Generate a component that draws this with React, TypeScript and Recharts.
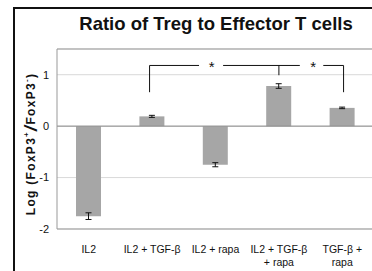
import {
  BarChart,
  Bar,
  XAxis,
  YAxis,
  CartesianGrid,
  ErrorBar,
  ReferenceLine,
  ReferenceDot,
} from "recharts";

const categories = ["IL2", "IL2 + TGF-β", "IL2 + rapa", "IL2 + TGF-β + rapa", "TGF-β + rapa"];
const tickLines = [["IL2"], ["IL2 + TGF-β"], ["IL2 + rapa"], ["IL2 + TGF-β", "+ rapa"], ["TGF-β +", "rapa"]];
const logRatio = [-1.75, 0.19, -0.75, 0.78, 0.355];
const sem = [0.065, 0.02, 0.04, 0.045, 0.015];
const yTicks = [-2, -1, 0, 1];

// significance bracket, in bar-index units on a hidden numeric axis
const bracketTop = 1.18;
const bracketFoot = 0.66;
const bracketMid = 0.99;
const bracketSegments = [
  [0.96, 1.74],
  [2.12, 3.33],
  [3.7, 4.02],
];
const stars = [1.94, 3.54];

const data = categories.map((c, i) => ({ name: c, idx: i, value: logRatio[i], err: sem[i] }));

const font = "'Liberation Sans', Arial, sans-serif";

function CategoryTick(props: any) {
  const { x, y, payload } = props;
  const lines = tickLines[payload.index] || [payload.value];
  return (
    <text x={x} y={y} textAnchor="middle" fontFamily={font} fontSize={10.5} fill="#111">
      {lines.map((l, i) => (
        <tspan key={i} x={x} dy={i === 0 ? 16 : 13}>
          {l}
        </tspan>
      ))}
    </text>
  );
}

function YLabel(props: any) {
  const vb = props.viewBox || {};
  const cx = 31;
  const cy = vb.y + vb.height / 2 + 5;
  return (
    <text
      x={cx}
      y={cy}
      transform={`rotate(-90 ${cx} ${cy})`}
      textAnchor="middle"
      dominantBaseline="central"
      fontFamily={font}
      fontWeight="bold"
      fontSize={12}
      letterSpacing={1.3}
      fill="#111"
    >
      Log  (FoxP3
      <tspan fontSize={8} dy={-5}>+</tspan>
      <tspan fontSize={18} dy={5} fontStyle="italic">/</tspan>
      <tspan>FoxP3</tspan>
      <tspan fontSize={8} dy={-5}>-</tspan>
      <tspan dy={5}>)</tspan>
    </text>
  );
}

function App() {
  return (
    <div style={{ position: "absolute", left: 0, top: 0, width: 372, height: 271, overflow: "hidden", background: "#fff" }}>
      <div
        style={{
          position: "absolute",
          left: 13,
          top: 7,
          width: 400,
          height: 300,
          border: "2px solid #111",
        }}
      />
      <div
        style={{
          position: "absolute",
          left: 60,
          top: 13,
          width: 312,
          textAlign: "center",
          fontFamily: font,
          fontWeight: "bold",
          fontSize: 18.5,
          color: "#111",
        }}
      >
        Ratio of Treg to Effector T cells
      </div>
      <div style={{ position: "absolute", left: 0, top: 0 }}>
        <BarChart width={374} height={271} data={data} margin={{ top: 49, right: 0, bottom: 0, left: 0 }}>
          <CartesianGrid vertical={false} stroke="#d9d9d9" />
          <XAxis
            dataKey="name"
            axisLine={{ stroke: "#999" }}
            tickLine={false}
            height={42}
            interval={0}
            tick={<CategoryTick />}
          />
          <XAxis xAxisId="num" type="number" dataKey="idx" domain={[-0.5, 4.5]} hide />
          <YAxis
            width={57}
            domain={[-2, 1.5]}
            ticks={yTicks}
            axisLine={{ stroke: "#999" }}
            tickLine={false}
            tick={{ fontFamily: font, fontSize: 11, fill: "#111" }}
            label={<YLabel />}
          />
          <ReferenceLine y={1.5} stroke="#999" />
          <ReferenceLine y={0} stroke="#8c8c8c" />
          <Bar dataKey="value" fill="#a6a6a6" barSize={25} isAnimationActive={false}>
            <ErrorBar dataKey="err" width={3} stroke="#111" strokeWidth={1} />
          </Bar>
          {bracketSegments.map(([a, b], i) => (
            <ReferenceLine
              key={"h" + i}
              xAxisId="num"
              segment={[
                { x: a, y: bracketTop },
                { x: b, y: bracketTop },
              ]}
              stroke="#111"
            />
          ))}
          <ReferenceLine
            xAxisId="num"
            segment={[
              { x: 0.96, y: bracketFoot },
              { x: 0.96, y: bracketTop },
            ]}
            stroke="#111"
          />
          <ReferenceLine
            xAxisId="num"
            segment={[
              { x: 4.02, y: bracketFoot },
              { x: 4.02, y: bracketTop },
            ]}
            stroke="#111"
          />
          <ReferenceLine
            xAxisId="num"
            segment={[
              { x: 3, y: bracketMid },
              { x: 3, y: bracketTop },
            ]}
            stroke="#111"
          />
          {stars.map((s, i) => (
            <ReferenceDot
              key={"s" + i}
              xAxisId="num"
              x={s}
              y={bracketTop}
              r={0}
              shape={(p: any) => (
                <text x={p.cx} y={p.cy + 7} textAnchor="middle" fontFamily={font} fontSize={15} fill="#111">
                  *
                </text>
              )}
            />
          ))}
        </BarChart>
      </div>
    </div>
  );
}

export default App;
